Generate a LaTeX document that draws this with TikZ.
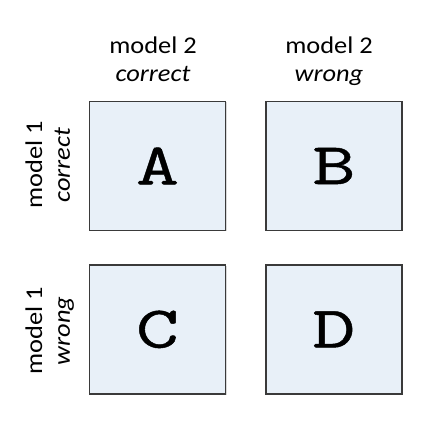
\documentclass[tikz,border=0pt]{standalone}
\usepackage{fontspec}
\newfontfamily\labelfont[FakeStretch=1.1]{Carlito}
\newfontfamily\cellfont[FakeStretch=1.42,FakeBold=0.8]{Latin Modern Mono}
\usetikzlibrary{positioning,shadows}
\definecolor{cellfill}{HTML}{E8F0F8}
\definecolor{cellline}{HTML}{3A3A3A}

\begin{document}
\begin{tikzpicture}[
  x=1pt, y=1pt,
  cell/.style={rectangle, draw=cellline, line width=1.4pt, fill=cellfill,
    minimum width=136pt, minimum height=129pt, inner sep=0pt,
    font=\cellfont\fontsize{59}{59}\selectfont,
    drop shadow={shadow xshift=1pt, shadow yshift=-1pt, opacity=0.3}},
  head/.style={align=center, inner sep=0pt, anchor=base,
    font=\labelfont\fontsize{24}{28}\selectfont}
]
\useasboundingbox (0,0) rectangle (448,432);

% the four outcome cells
\node[cell] (A) at (157.5,266) {A};
\node[cell, right=39pt of A] (B) {B};
\node[cell, below=33pt of A] (C) {C};
\node[cell, right=39pt of C] (D) {D};

% column headers (model 2)
\node[head] (colA) at (153,350) {model 2\\\textit{correct}};
\node[head] (colB) at (329,350) {model 2\\\textit{wrong}};

% row headers (model 1)
\node[head, rotate=90] (rowA) at (70,267) {model 1\\\textit{correct}};
\node[head, rotate=90] (rowC) at (70,101) {model 1\\\textit{wrong}};
\end{tikzpicture}
\end{document}
